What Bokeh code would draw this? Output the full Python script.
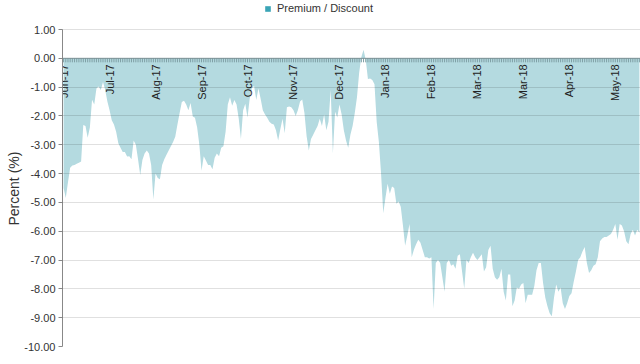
import math
from bokeh.plotting import figure
from bokeh.models import (ColumnDataSource, Range1d, FixedTicker, NumeralTickFormatter,
                          Legend, LegendItem, Span, Title)
from bokeh.core.properties import value
from bokeh.embed import file_html
from bokeh.resources import INLINE

# ---- data (daily premium / discount, %) ----
premium_discount = [
    -4.5, -4.85, -4.3, -3.8, -3.72, -3.7, -3.66, -3.62, -3.58, -2.31, -2.35, -2.76, -2.4, -1.44, -1.6, -1.05, -0.98, -1.1, -0.82, -1.1, -1.5,
    -1.8, -2.15, -2.3, -2.55, -2.95, -3.1, -3.25, -3.25, -3.41, -3.4, -3.5, -2.85, -3.0, -3.5, -4.05, -3.53, -3.3, -3.2, -3.3, -3.7, -4.9,
    -4.0, -4.15, -4.2, -3.7, -3.5, -3.35, -3.2, -3.05, -2.9, -2.72, -2.3, -1.9, -1.52, -1.47, -1.6, -1.8, -1.55, -2.02, -2.06, -2.4, -3.0,
    -3.9, -3.4, -3.55, -3.7, -3.7, -3.85, -3.45, -3.3, -3.4, -3.1, -3.05, -2.55, -1.6, -1.35, -1.65, -1.45, -1.6, -2.1, -2.8, -1.8, -1.58,
    -2.05, -1.4, -1.05, -0.95, -1.45, -1.05, -1.4, -1.8, -1.95, -2.06, -2.2, -2.27, -2.3, -2.5, -2.85, -2.45, -2.1, -2.6, -1.7, -1.67, -1.7,
    -1.8, -2.0, -1.8, -1.5, -1.43, -1.9, -2.7, -3.2, -2.8, -2.65, -2.5, -2.35, -2.1, -2.35, -1.95, -2.5, -2.2, -1.1, -3.3, -1.85, -2.05,
    -1.6, -1.95, -2.5, -2.85, -3.1, -2.65, -2.35, -1.9, -1.35, -0.5, 0.05, 0.3, -0.05, -0.72, -0.7, -0.75, -0.9, -2.2, -2.9, -4.0, -5.38,
    -4.85, -4.35, -4.7, -4.45, -4.5, -5.05, -4.97, -5.15, -5.8, -6.5, -6.15, -5.75, -6.9, -6.64, -6.45, -6.3, -6.4, -6.65, -6.9, -6.9, -6.95,
    -6.9, -8.7, -7.1, -7.0, -7.1, -7.6, -8.1, -7.1, -7.0, -7.2, -7.15, -7.3, -6.85, -6.8, -7.4, -8.0, -7.0, -7.1, -6.9, -6.75, -6.9,
    -7.0, -6.9, -6.8, -7.4, -7.25, -6.65, -6.5, -7.3, -7.6, -7.68, -7.6, -7.3, -8.1, -8.4, -7.5, -7.5, -8.6, -8.4, -7.95, -8.0, -7.85,
    -7.8, -8.5, -8.2, -8.2, -8.2, -7.9, -7.35, -7.1, -7.1, -7.8, -8.3, -8.6, -8.85, -8.95, -8.3, -7.85, -8.1, -7.95, -8.5, -8.7, -8.5,
    -8.25, -8.15, -7.75, -7.4, -7.0, -6.9, -6.7, -6.55, -7.1, -7.45, -7.35, -7.2, -7.15, -6.9, -6.35, -6.25, -6.2, -6.2, -6.15, -6.1, -5.95,
    -5.75, -6.3, -5.75, -5.8, -6.0, -6.35, -6.45, -6.1, -5.95, -6.15, -5.95, -6.05,
]
month_labels = ["Jun-17", "Jul-17", "Aug-17", "Sep-17", "Oct-17", "Nov-17", "Dec-17",
                "Jan-18", "Feb-18", "Mar-18", "Mar-18", "Apr-18", "May-18"]
label_every = 21
y_ticks = [1, 0, -1, -2, -3, -4, -5, -6, -7, -8, -9, -10]
series_name = "Premium / Discount"
y_title = "Percent (%)"

FONT = "Liberation Sans"
n = len(premium_discount)
idx = list(range(n))
src = ColumnDataSource(dict(x=idx, y=premium_discount, base=[0] * n))
label_idx = [i * label_every for i in range(len(month_labels))]
lab_src = ColumnDataSource(dict(x=label_idx, y=[0] * len(label_idx), text=month_labels))

W, H = 640, 364
BL, BT, BB = 62, 0, 18
frame_h = H - BT - BB
y_lo, y_hi = min(y_ticks), max(y_ticks)
# leave ~29px of headroom above the top tick for the legend
y_top = y_hi + 29 * (y_hi - y_lo) / (frame_h - 29)

p = figure(width=W, height=H, output_backend="svg", toolbar_location=None,
           x_axis_location=None,
           x_range=Range1d(-0.5, n - 0.5), y_range=Range1d(y_lo, y_top),
           min_border_left=BL, min_border_right=0, min_border_top=BT, min_border_bottom=BB)
p.outline_line_color = None
p.xgrid.visible = False
p.ygrid.ticker = FixedTicker(ticks=y_ticks)
p.ygrid.grid_line_color = "#000000"
p.ygrid.grid_line_alpha = 0.12
p.ygrid.level = "overlay"

# legend swatch renderer: zero-height area along the baseline (invisible), supplies the legend colour
swatch = p.varea(x="x", y1="base", y2="base", source=src, fill_color="#3aa4b6")
area = p.varea(x="x", y1="base", y2="y", source=src, fill_color="#b4dae0")

# zero axis line with per-day ticks
p.add_layout(Span(location=0, dimension="width", line_color="#7d9499", line_width=1, level="overlay"))
p.ray(x="x", y="base", source=src, length=4, length_units="screen", angle=-math.pi / 2,
      line_color="#7f9fa5", line_width=1)
p.text(x="x", y="y", text="text", source=lab_src, angle=math.pi / 2, y_offset=6,
       text_align="right", text_baseline="middle", text_font=value(FONT),
       text_font_size="11px", text_color="#222222")

# y axis
ya = p.yaxis[0]
ya.bounds = (y_lo, y_hi)
ya.ticker = FixedTicker(ticks=y_ticks)
ya.formatter = NumeralTickFormatter(format="0.00")
ya.major_label_text_font = FONT
ya.major_label_text_font_size = "11px"
ya.major_label_text_color = "#333333"
ya.major_label_standoff = 3
ya.axis_line_color = "#888888"
ya.major_tick_line_color = "#888888"
ya.major_tick_out = 4
ya.major_tick_in = 0
ya.minor_tick_line_color = None

ytitle = Title(text=y_title, align="left", offset=121, standoff=0,
               text_font=FONT, text_font_size="14px", text_font_style="normal",
               text_color="#333333")
p.add_layout(ytitle, "left")

legend = Legend(items=[LegendItem(label=series_name, renderers=[swatch])],
                orientation="horizontal", location=(202, frame_h - 14),
                label_text_font=FONT, label_text_font_size="11px", label_text_color="#333333",
                glyph_width=7, glyph_height=7, padding=0, margin=0, spacing=4,
                label_standoff=6, border_line_color=None, background_fill_alpha=0)
p.add_layout(legend)

open("out.html", "w").write(file_html(p, INLINE))
